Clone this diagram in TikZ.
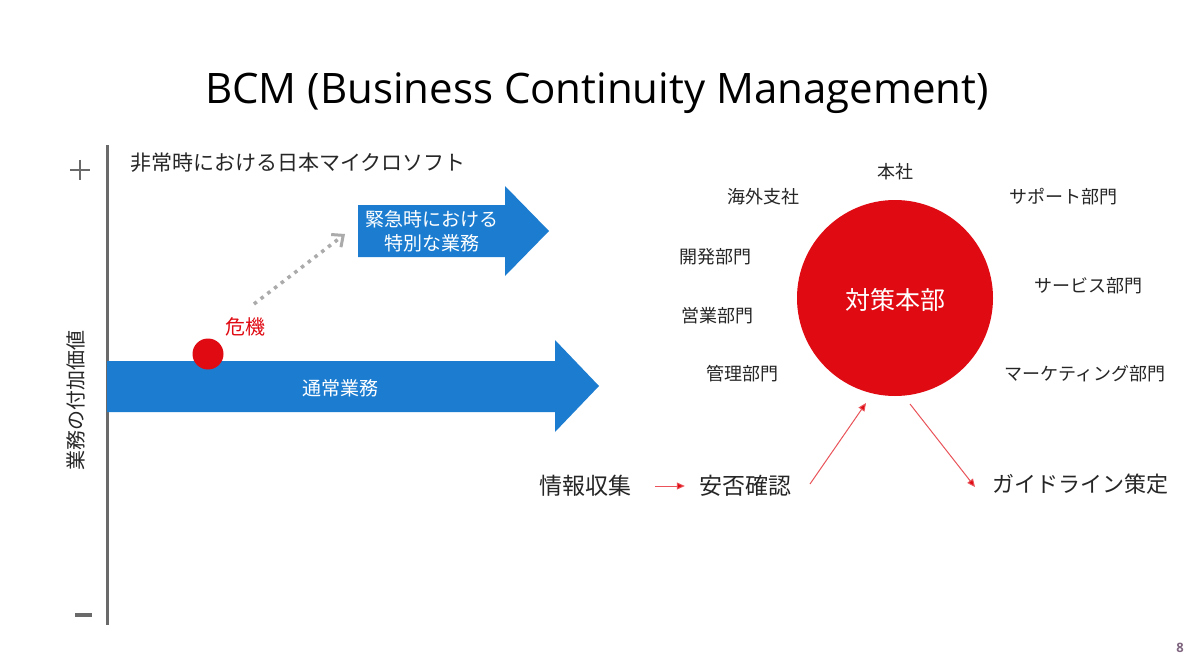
\documentclass[tikz,border=0pt]{standalone}
\usepackage{fontspec}
\setmainfont{Open Sans}
\newfontfamily\jp{Noto Sans CJK JP}
\usetikzlibrary{arrows.meta}
\definecolor{bblue}{HTML}{1C7DD0}
\definecolor{rred}{HTML}{E00A12}
\definecolor{axisgray}{HTML}{6A6A6A}
\definecolor{dotgray}{HTML}{ABABAB}
\definecolor{txt}{HTML}{262626}
\tikzset{
  jlab/.style={font=\jp\fontsize{18}{20}\selectfont, text=txt, inner sep=0pt},
  blab/.style={font=\jp\fontsize{23}{26}\selectfont, text=txt, inner sep=0pt},
  wlab/.style={font=\jp\fontsize{19}{24}\selectfont, text=white, inner sep=0pt, align=center},
  redarrow/.style={draw=rred!70, line width=1pt, -{Triangle[length=8pt,width=7pt,fill=rred]}},
  bigarrow/.style={fill=bblue, draw=none}
}
\begin{document}
\begin{tikzpicture}[x=1pt,y=-1pt]
\useasboundingbox[fill=white] (0,0) rectangle (1200,669);
% title
\node[font=\fontsize{42}{48}\selectfont, text=black, inner sep=0pt] (title) at (597,93) {BCM (Business Continuity Management)};
% axis
\coordinate (axtop) at (107,145);
\coordinate (axbot) at (107,625);
\draw[axisgray, line width=3pt] (axtop) -- (axbot);
\node[minimum size=20pt, inner sep=0pt] (plus) at (80,170) {};
\draw[axisgray, line width=2.2pt] (plus.west) -- (plus.east) (plus.north) -- (plus.south);
\node[fill=axisgray, minimum width=17pt, minimum height=3.5pt, inner sep=0pt] (minus) at (83,615) {};
\node[jlab, font=\jp\fontsize{20}{22}\selectfont, rotate=90] (ylab) at (76,400) {業務の付加価値};
\node[jlab, font=\jp\fontsize{21}{24}\selectfont, anchor=west] (sub) at (130,163) {非常時における日本マイクロソフト};
% normal business arrow
\path[bigarrow] (107,361) -- (555,361) -- (555,340) -- (599,386) -- (555,432) -- (555,412) -- (107,412) -- cycle;
\node[wlab] (normal) at (340,388) {通常業務};
% special business arrow
\path[bigarrow] (358,205) -- (505,205) -- (505,186) -- (549,231) -- (505,276) -- (505,257) -- (358,257) -- cycle;
\node[wlab, font=\jp\fontsize{19}{24}\selectfont] (special) at (432,231) {緊急時における\\特別な業務};
% crisis
\node[circle, fill=rred, minimum size=31pt, inner sep=0pt] (crisis) at (208,354) {};
\node[jlab, font=\jp\fontsize{20}{22}\selectfont, text=rred] (kiki) at (245,327) {危機};
\coordinate (dotstart) at (254,304);
\coordinate (dotend) at (345,234);
\draw[dotgray, line width=3.5pt, dash pattern=on 3.5pt off 5pt, -{Straight Barb[length=9pt,width=16pt,line width=3pt]}] (dotstart) -- (dotend);
% headquarters circle
\node[circle, fill=rred, minimum size=196pt, inner sep=0pt] (hq) at (895,298) {};
\node[wlab, font=\jp\fontsize{25}{28}\selectfont] (hqlab) at (895,300) {対策本部};
\node[jlab] (honsha) at (895,172) {本社};
\node[jlab] (kaigai) at (763,197) {海外支社};
\node[jlab] (support) at (1063,197) {サポート部門};
\node[jlab] (kaihatsu) at (715,257) {開発部門};
\node[jlab] (service) at (1088,286) {サービス部門};
\node[jlab] (eigyo) at (717,316) {営業部門};
\node[jlab] (kanri) at (742,374) {管理部門};
\node[jlab] (marketing) at (1085,374) {マーケティング部門};
% bottom flow
\node[blab] (joho) at (585,486) {情報収集};
\node[blab] (anpi) at (745,486) {安否確認};
\node[blab, font=\jp\fontsize{22}{26}\selectfont] (guide) at (1080,484) {ガイドライン策定};
\draw[redarrow] ([xshift=24pt]joho.east) -- ([xshift=-14pt]anpi.west);
\coordinate (a1) at (810,484);
\coordinate (a2) at (866,403);
\coordinate (g1) at (910,404);
\coordinate (g2) at (975,487);
\draw[redarrow] (a1) -- (a2);
\draw[redarrow] (g1) -- (g2);
% page number
\node[font=\bfseries\fontsize{13}{14}\selectfont, text=gray!80!violet, inner sep=0pt] (page) at (1180,648) {8};
\end{tikzpicture}
\end{document}
